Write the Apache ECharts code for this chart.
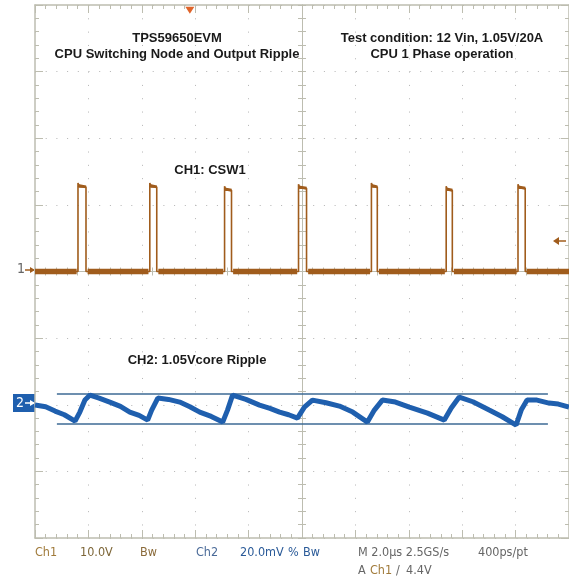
<!DOCTYPE html>
<html>
<head>
<meta charset="utf-8">
<script src="https://cdn.jsdelivr.net/npm/echarts@6/dist/echarts.min.js"></script>
<style>
  html, body { margin: 0; padding: 0; background: #fff; }
  #chart { width: 569px; height: 579px; }
</style>
</head>
<body>
<div id="chart"></div>
<script>
// CH1 switching node pulses (time in us, relative to screen center; level in V)
const pulseRise = [-8.39, -5.70, -2.90, -0.13, 2.60, 5.40, 8.09];
const pulseFall = [-8.09, -5.44, -2.64, 0.17, 2.82, 5.63, 8.36];
const pulseTop = [12.7, 12.7, 12.2, 12.5, 12.7, 12.2, 12.5];

// CH2 output ripple (time in us, ripple in mV around the 1.05V level)
const rippleTime = [-10, -9.6, -9.25, -8.9, -8.5, -8.32, -8.13, -7.94, -7.6, -7.2, -6.8, -6.45, -6.1, -5.78,
  -5.63, -5.4, -5.0, -4.58, -4.2, -3.83, -3.4, -2.97, -2.79, -2.6, -2.1, -1.59, -1.2, -0.84, -0.5, -0.17,
  0.09, 0.39, 0.9, 1.4, 1.9, 2.45, 2.71, 3.01, 3.5, 4.02, 4.7, 5.33, 5.59, 5.89, 6.4, 7.01, 7.5, 8.02,
  8.21, 8.43, 8.8, 9.25, 9.6, 10];
const rippleMv = [-0.1, -0.6, -1.9, -3.0, -4.9, -2.2, 1.4, 2.9, 2.0, 0.8, -0.5, -2.2, -3.2, -4.6,
  -1.6, 2.0, 1.6, 0.8, -0.6, -2.2, -3.5, -5.2, -1.6, 2.9, 1.6, -0.1, -1.1, -2.2, -3.0, -4.0,
  -0.7, 1.4, 0.6, -0.4, -2.2, -5.2, -1.6, 1.4, 0.8, -0.7, -2.5, -4.6, -1.0, 2.3, 0.9, -1.6, -3.6, -6.1,
  -1.6, 1.4, 1.4, 0.5, 0.2, -0.7];

// cursors on CH2 (mV) and their span (us)
const cursorMv = [3.2, -5.8];
const cursorSpan = [-9.18, 9.21];

// bottom readout
const readout = [
  ['Ch1', 35, 553, '#a07a3a'], ['10.0V', 80, 553, '#7d6638'], ['Bw', 140, 553, '#8a6a3a'],
  ['Ch2', 196, 553, '#4a6a98'], ['20.0mV', 240, 553, '#2a5a98'], ['%', 288, 553, '#2a5a98'], ['Bw', 303, 553, '#2a5a98'],
  ['M 2.0\u00b5s 2.5GS/s', 358, 553, '#666'], ['400ps/pt', 478, 553, '#666'],
  ['A', 358, 571, '#666'], ['Ch1', 370, 571, '#a07a3a'], ['/', 396, 571, '#666'], ['4.4V', 406, 571, '#666']
];

const frame = '#bdbdb0';
const ch1Color = '#a05c1c';
const ch2Color = '#1f5fae';
const readFont = '12.5px Liberation Sans Narrow, DejaVu Sans Condensed, sans-serif';

// build CH1 trace: thin outline, thick noisy baseline, slightly thick pulse tops
const ch1Trace = [[-10, 0]];
const ch1Base = [[-10, 0]];
const ch1Tops = [];
pulseRise.forEach((r, i) => {
  ch1Trace.push([r, 0], [r, pulseTop[i] + 0.6], [r + 0.05, pulseTop[i]], [pulseFall[i], pulseTop[i]], [pulseFall[i], 0]);
  ch1Base.push([r - 0.05, 0], [r, '-'], [pulseFall[i] + 0.06, 0]);
  ch1Tops.push([r, pulseTop[i] + 0.2], [pulseFall[i], pulseTop[i]], [pulseFall[i], '-']);
});
ch1Trace.push([10, 0]);
ch1Base.push([10, 0]);

const ch2Trace = rippleTime.map((t, i) => [t, rippleMv[i]]);

let chart = echarts.init(document.getElementById('chart'), null, { renderer: 'canvas' });

const frameX = (pos) => ({
  type: 'value', min: -10, max: 10, interval: 2, position: pos,
  axisLine: { show: true, onZero: false, lineStyle: { color: frame, width: 1.5 } },
  axisTick: { show: true, inside: true, length: 8, lineStyle: { color: frame } },
  minorTick: { show: true, splitNumber: 5, length: 4, lineStyle: { color: frame } },
  axisLabel: { show: false },
  splitLine: { show: false }
});
const frameY = (pos) => ({
  type: 'value', min: -4, max: 4, interval: 1, position: pos,
  axisLine: { show: true, onZero: false, lineStyle: { color: frame, width: 1.5 } },
  axisTick: { show: true, inside: true, length: 8, lineStyle: { color: frame } },
  minorTick: { show: true, splitNumber: 5, length: 4, lineStyle: { color: frame } },
  axisLabel: { show: false },
  splitLine: { show: false }
});
const centerX = (inside) => ({
  type: 'value', min: -10, max: 10, interval: 2, position: 'bottom',
  axisLine: { show: true, onZero: true, onZeroAxisIndex: 0, lineStyle: { color: frame, width: 1 } },
  axisTick: { show: true, inside, length: 4, lineStyle: { color: frame } },
  minorTick: { show: true, splitNumber: 5, length: 4, lineStyle: { color: frame } },
  axisLabel: { show: false },
  splitLine: { show: false }
});
const centerY = (inside) => ({
  type: 'value', min: -4, max: 4, interval: 1, position: 'left',
  axisLine: { show: true, onZero: true, onZeroAxisIndex: 0, lineStyle: { color: frame, width: 1 } },
  axisTick: { show: true, inside, length: 4, lineStyle: { color: frame } },
  minorTick: { show: true, splitNumber: 5, length: 4, lineStyle: { color: frame } },
  axisLabel: { show: false },
  splitLine: { show: false }
});

const xMain = frameX('bottom');
xMain.splitLine = { show: true, lineStyle: { color: '#b4b4b4', width: 1, type: [1, 12.32] } };
const yMain = frameY('left');
yMain.splitLine = { show: true, lineStyle: { color: '#b4b4b4', width: 1, type: [1, 9.7] } };

const titleStyle = { fontSize: 13, fontWeight: 'bold', fontFamily: 'Liberation Sans, Arial, sans-serif', color: '#1a1a1a', lineHeight: 16 };

chart.setOption({
  animation: false,
  backgroundColor: '#fff',
  title: [
    { text: 'TPS59650EVM\nCPU Switching Node and Output Ripple', left: 172, top: 25, textAlign: 'center', textStyle: titleStyle },
    { text: 'Test condition: 12 Vin, 1.05V/20A\nCPU 1 Phase operation', left: 437, top: 25, textAlign: 'center', textStyle: titleStyle },
    { text: 'CH1: CSW1', left: 205, top: 157, textAlign: 'center', textStyle: titleStyle },
    { text: 'CH2: 1.05Vcore Ripple', left: 192, top: 347, textAlign: 'center', textStyle: titleStyle }
  ],
  grid: { left: 35, top: 5, right: -1, bottom: 41, containLabel: false },
  xAxis: [xMain, frameX('top'), centerX(true), centerX(false)],
  yAxis: [yMain, frameY('right'), centerY(true), centerY(false),
    { type: 'value', min: -40, max: 40, show: false },
    { type: 'value', min: -40, max: 120, show: false }],
  series: [
    {
      name: 'CH1 baseline', type: 'line', yAxisIndex: 4, data: ch1Base, symbol: 'none',
      connectNulls: false, lineStyle: { color: ch1Color, width: 5.5 }, z: 5
    },
    {
      name: 'CH1 tops', type: 'line', yAxisIndex: 4, data: ch1Tops, symbol: 'none',
      connectNulls: false, lineStyle: { color: ch1Color, width: 3 }, z: 5
    },
    {
      name: 'CH1', type: 'line', yAxisIndex: 4, data: ch1Trace, symbol: 'none',
      lineStyle: { color: ch1Color, width: 1.6 }, z: 6,
      markPoint: {
        silent: true, symbol: 'triangle', symbolRotate: 180, symbolSize: [9, 7],
        itemStyle: { color: '#e0642a' }, label: { show: false },
        data: [{ coord: [-4.2, 39.2] }]
      }
    },
    {
      name: 'CH2', type: 'line', yAxisIndex: 5, data: ch2Trace, symbol: 'none',
      lineStyle: { color: ch2Color, width: 5 }, z: 5
    },
    {
      name: 'Cursor A', type: 'line', yAxisIndex: 5, symbol: 'none', z: 4,
      data: cursorSpan.map(t => [t, cursorMv[0]]), lineStyle: { color: '#3d6a94', width: 1.5 }
    },
    {
      name: 'Cursor B', type: 'line', yAxisIndex: 5, symbol: 'none', z: 4,
      data: cursorSpan.map(t => [t, cursorMv[1]]), lineStyle: { color: '#3d6a94', width: 1.5 }
    }
  ],
  graphic: [
    // CH1 ground marker
    { type: 'text', left: 17, top: 262, style: { text: '1', fill: '#666', font: '14px Liberation Sans Narrow, DejaVu Sans Condensed, sans-serif' } },
    { type: 'polyline', shape: { points: [[25, 270], [34, 270]] }, style: { stroke: ch1Color, lineWidth: 1.5 } },
    { type: 'polygon', shape: { points: [[35, 270], [30, 267], [30, 273]] }, style: { fill: ch1Color } },
    // CH2 ground marker
    { type: 'rect', shape: { x: 13, y: 394, width: 22, height: 18 }, style: { fill: ch2Color } },
    { type: 'text', left: 16, top: 396, style: { text: '2', fill: '#fff', font: '14px Liberation Sans Narrow, DejaVu Sans Condensed, sans-serif' } },
    { type: 'polyline', shape: { points: [[25, 403], [34, 403]] }, style: { stroke: '#fff', lineWidth: 1.5 } },
    { type: 'polygon', shape: { points: [[35, 403], [30, 400], [30, 406]] }, style: { fill: '#fff' } },
    // trigger level arrow
    { type: 'polyline', shape: { points: [[556, 241], [566, 241]] }, style: { stroke: ch1Color, lineWidth: 1.5 } },
    { type: 'polygon', shape: { points: [[553, 241], [559, 237], [559, 245]] }, style: { fill: ch1Color } }
  ].concat(readout.map(([t, x, y, c]) => ({
    type: 'text', x, y,
    style: { text: t, fill: c, font: readFont, textVerticalAlign: 'middle' }
  })))
});
</script>
</body>
</html>
